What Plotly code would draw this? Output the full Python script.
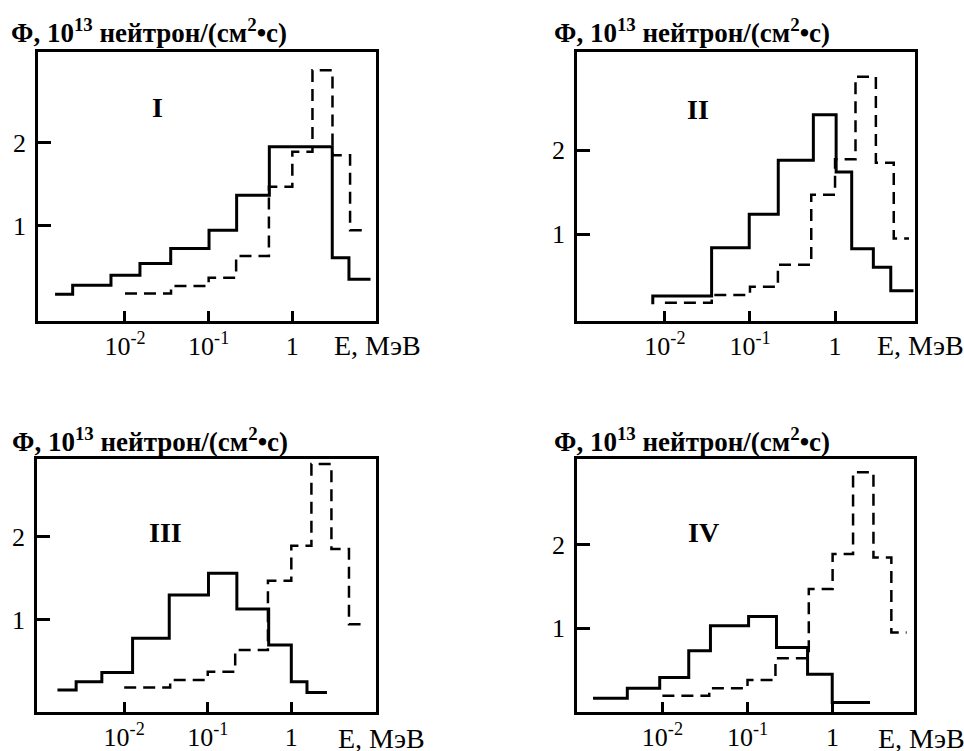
import plotly.graph_objects as go

# ---------------- data ----------------
# Reference (dashed) spectrum, same in all panels: bin edges (MeV) and values
ref_edges = [0.0100, 0.0355, 0.100, 0.213, 0.525, 1.00, 1.74, 3.02, 4.90, 7.40]
ref_values = [0.19, 0.28, 0.38, 0.64, 1.47, 1.89, 2.87, 1.85, 0.95]

# Solid spectra per panel
I_edges = [0.00146, 0.00237, 0.0068, 0.0151, 0.0352, 0.101, 0.216, 0.531, 3.00, 4.75, 8.60]
I_values = [0.18, 0.29, 0.41, 0.55, 0.73, 0.95, 1.37, 1.95, 0.62, 0.36]

II_edges = [0.0072, 0.0072, 0.0354, 0.098, 0.215, 0.556, 1.03, 1.57, 2.82, 4.52, 8.36]
II_values = [0.17, 0.27, 0.84, 1.24, 1.88, 2.42, 1.74, 0.83, 0.61, 0.33]

III_edges = [0.00159, 0.00266, 0.0054, 0.0126, 0.0346, 0.102, 0.223, 0.536, 1.00, 1.54, 2.67]
III_values = [0.16, 0.26, 0.37, 0.78, 1.30, 1.56, 1.13, 0.70, 0.26, 0.13]

IV_edges = [0.00153, 0.00387, 0.0093, 0.0204, 0.0367, 0.103, 0.219, 0.508, 0.99, 2.75]
IV_values = [0.16, 0.28, 0.41, 0.73, 1.03, 1.14, 0.77, 0.45, 0.11]

panel_names = ["I", "II", "III", "IV"]
x_tickvals = [0.01, 0.1, 1]
x_ticktext = ["10<sup>-2</sup>", "10<sup>-1</sup>", "1"]
y_tickvals = [1, 2]
y_ticktext = ["1", "2"]
y_title = "<b>Φ, 10<sup>13</sup> нейтрон/(см<sup>2</sup>•с)</b>"
x_title = "E, МэВ"

solid = [(I_edges, I_values), (II_edges, II_values), (III_edges, III_values), (IV_edges, IV_values)]

# ---------------- layout geometry (page pixels) ----------------
W, H = 964, 751


def px(x):
    return x / W


def py(y):
    return 1 - y / H


boxes = [  # x0, x1, y0(top), y1(bottom) in px
    (38.3, 376.0, 52.3, 320.7),
    (577.3, 915.0, 52.3, 320.7),
    (37.3, 375.7, 459.0, 711.7),
    (577.3, 914.3, 459.0, 711.7),
]
x_ranges = [[-3.036, 1.0], [-3.03, 0.94], [-3.04, 1.01], [-3.0, 0.96]]
y_ranges = [[-0.137, 3.085], [-0.024, 3.16], [-0.10, 2.93], [0.0, 3.03]]
label_pos = [(157, 108), (698, 110), (165, 532), (703, 532)]
ytitle_pos = [(9, 31), (552, 31), (10, 440), (552, 440)]
xtitle_pos = [(377, 346), (920, 346), (381, 738), (921, 738)]

FONT = "Liberation Serif, Times New Roman, serif"

fig = go.Figure()
layout = dict(
    width=W, height=H,
    margin=dict(l=0, r=0, t=0, b=0, autoexpand=False),
    paper_bgcolor="white", plot_bgcolor="white",
    showlegend=False,
    font=dict(family=FONT, color="black", size=26),
)
annotations = []

for i in range(4):
    n = "" if i == 0 else str(i + 1)
    xa, ya = "x" + n, "y" + n
    x0, x1, yt, yb = boxes[i]
    edges, vals = solid[i]
    fig.add_trace(go.Scatter(
        x=edges, y=list(vals) + [vals[-1]], xaxis=xa, yaxis=ya,
        mode="lines", line=dict(shape="hv", color="black", width=3),
        hoverinfo="skip"))
    fig.add_trace(go.Scatter(
        x=ref_edges, y=list(ref_values) + [ref_values[-1]], xaxis=xa, yaxis=ya,
        mode="lines", line=dict(shape="hv", color="black", width=2.5, dash="12px,7px"),
        hoverinfo="skip"))
    layout["xaxis" + n] = dict(
        type="log", range=x_ranges[i], domain=[px(x0), px(x1)],
        anchor=ya, showgrid=False, zeroline=False, automargin=False,
        showline=True, linecolor="black", linewidth=3, mirror=True,
        ticks="inside", ticklen=10, tickwidth=3, tickcolor="black",
        tickvals=x_tickvals, ticktext=x_ticktext,
        tickfont=dict(family=FONT, size=26, color="black"),
        ticklabelstandoff=0,
    )
    layout["yaxis" + n] = dict(
        range=y_ranges[i], domain=[py(yb), py(yt)],
        anchor=xa, showgrid=False, zeroline=False, automargin=False,
        showline=True, linecolor="black", linewidth=3, mirror=True,
        ticks="inside", ticklen=13, tickwidth=3, tickcolor="black",
        tickvals=y_tickvals, ticktext=y_ticktext,
        tickfont=dict(family=FONT, size=26, color="black"),
        ticklabelstandoff=4,
    )
    lx, ly = label_pos[i]
    annotations.append(dict(text="<b>" + panel_names[i] + "</b>", x=px(lx), y=py(ly),
                            xanchor="center", yanchor="middle",
                            xref="paper", yref="paper", showarrow=False,
                            font=dict(family=FONT, size=28, color="black")))
    tx, ty = ytitle_pos[i]
    annotations.append(dict(text=y_title, x=px(tx), y=py(ty), xanchor="left", yanchor="middle",
                            xref="paper", yref="paper", showarrow=False,
                            font=dict(family=FONT, size=27, color="black")))
    ex, ey = xtitle_pos[i]
    annotations.append(dict(text=x_title, x=px(ex), y=py(ey),
                            xanchor="center", yanchor="middle",
                            xref="paper", yref="paper", showarrow=False,
                            font=dict(family=FONT, size=28, color="black")))

layout["annotations"] = annotations
fig.update_layout(**layout)
fig.write_html("out.html",
               config={"displayModeBar": False, "staticPlot": True},
               post_script="document.body.style.margin='0px';document.body.style.overflow='hidden';")
